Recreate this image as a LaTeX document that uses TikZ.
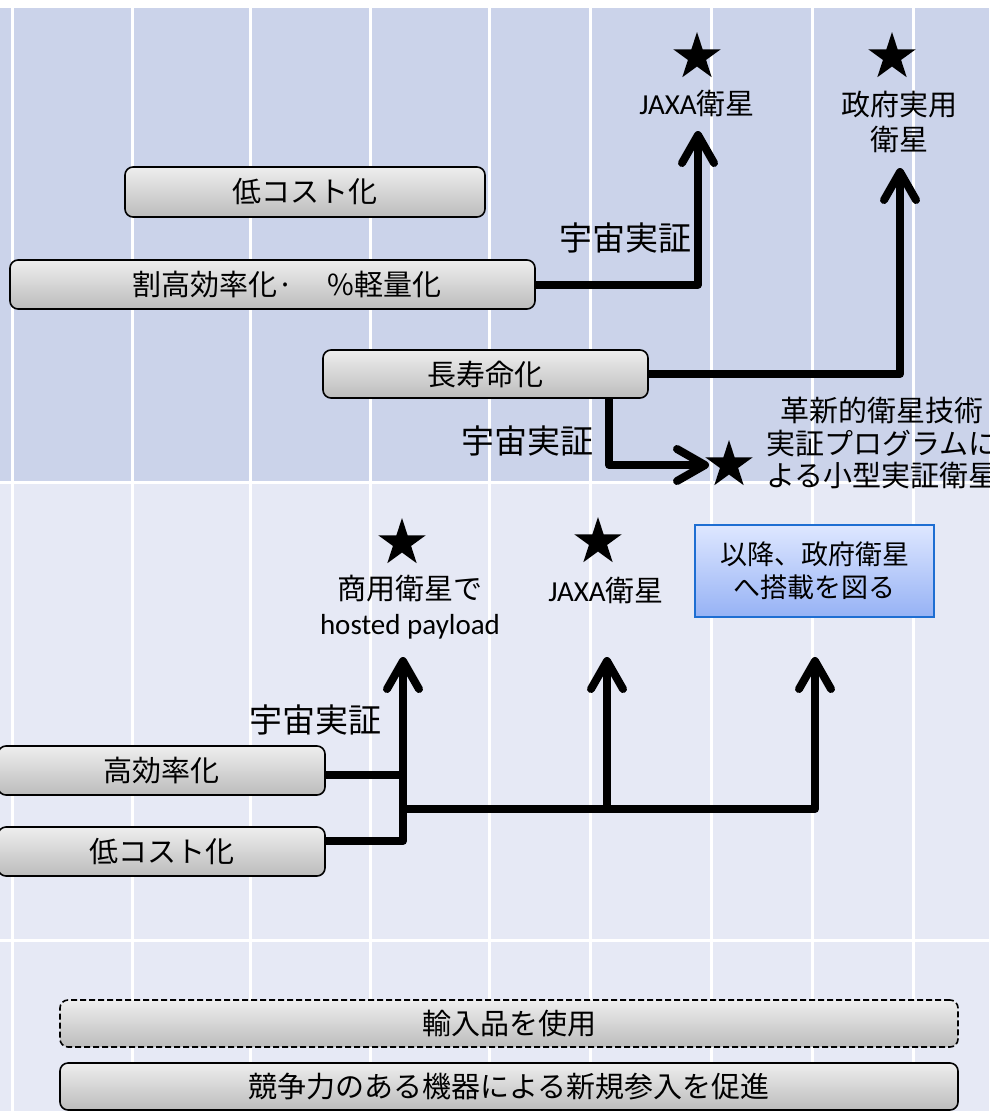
\documentclass[tikz,border=0pt]{standalone}
\usepackage{fontspec}
\setmainfont{Noto Sans CJK JP}
\newfontfamily\latfont{Carlito}
\usetikzlibrary{shapes.geometric,arrows.meta}
\definecolor{bandA}{RGB}{203,211,234}
\definecolor{bandB}{RGB}{230,233,245}
\definecolor{boxtop}{RGB}{238,238,238}
\definecolor{boxbot}{RGB}{188,188,188}
\definecolor{bluetop}{RGB}{222,231,255}
\definecolor{bluebot}{RGB}{150,178,245}
\definecolor{blueedge}{RGB}{30,110,210}
\tikzset{
  gbox/.style={draw=black,line width=1.6pt,rounded corners=8pt,top color=boxtop,bottom color=boxbot,inner sep=0pt,font=\fontsize{29}{34}\selectfont},
  bluebox/.style={draw=blueedge,line width=2pt,top color=bluetop,bottom color=bluebot,inner sep=0pt,align=center,font=\fontsize{27}{33}\selectfont},
  starnode/.style={star,star points=5,star point ratio=2.618,fill=black,draw=none,inner sep=0pt,minimum size=50pt},
  lbl/.style={inner sep=0pt,align=center,font=\fontsize{29}{35}\selectfont},
  demo/.style={inner sep=0pt,font=\fontsize{33}{38}\selectfont},
  conn/.style={line width=8pt,line join=round},
  arr/.style={conn,-{Straight Barb[length=28pt,width=32pt,round]}},
  gridline/.style={white,line width=3pt}
}
\begin{document}
\begin{tikzpicture}[x=1pt,y=-1pt]
\useasboundingbox (0,0) rectangle (989,1111);
\clip (0,0) rectangle (989,1111);
% background bands
\fill[white] (0,0) rectangle (989,1111);
\fill[bandA] (0,8) rectangle (989,482.5);
\fill[bandB] (0,482.5) rectangle (989,1111);
\foreach \x in {12,132,250,370,489,590,711,812,913}
  \draw[gridline] (\x,8) -- (\x,1111);
\draw[gridline] (0,482.5) -- (989,482.5);
\draw[gridline] (0,940) -- (989,940);

% boxes
\node[gbox,minimum width=360pt,minimum height=50pt] (lc1) at (305,192) {低コスト化};
\node[gbox,minimum width=525pt,minimum height=49pt] (eff) at (272.5,284.5) {\hspace*{29pt}割高効率化·\hspace{34pt}\%軽量化};
\node[gbox,minimum width=325pt,minimum height=48pt] (life) at (485.5,374) {長寿命化};
\node[gbox,minimum width=327pt,minimum height=49pt] (hi) at (161.5,770.5) {高効率化};
\node[gbox,minimum width=327pt,minimum height=49pt] (lc2) at (161.5,851.5) {低コスト化};
\node[gbox,dash pattern=on 6pt off 3pt,minimum width=898pt,minimum height=47pt] (imp) at (509,1023.5) {輸入品を使用};
\node[gbox,minimum width=898pt,minimum height=47pt] (comp) at (509,1086.5) {競争力のある機器による新規参入を促進};
\node[bluebox,minimum width=239pt,minimum height=92pt] (gov) at (814.5,571) {以降、政府衛星\\へ搭載を図る};

% stars
\node[starnode] (s1) at (697,57) {};
\node[starnode] (s2) at (892,57) {};
\node[starnode] (s3) at (729,465) {};
\node[starnode] (s4) at (402,543) {};
\node[starnode] (s5) at (598,542) {};

% labels
\node[lbl] (j1) at (697,103) {{\latfont JAXA}衛星};
\node[lbl] (g1) at (899,121.5) {政府実用\\衛星};
\node[lbl,font=\fontsize{29}{32.5}\selectfont] (inn) at (882,443) {革新的衛星技術\\実証プログラムに\\よる小型実証衛星};
\node[lbl] (cm) at (410,607) {商用衛星で\\{\latfont hosted payload}};
\node[lbl] (j2) at (606,590) {{\latfont JAXA}衛星};
\node[demo,anchor=east] (d1) at (692,238) {宇宙実証};
\node[demo,anchor=east] (d2) at (594,441) {宇宙実証};
\node[demo,anchor=east] (d3) at (382,720) {宇宙実証};

% connectors
\coordinate (a1) at (698,131);
\coordinate (a2) at (900,168);
\coordinate (a3) at (709,465);
\coordinate (a4) at (403,657);
\coordinate (a5) at (607,657);
\coordinate (a6) at (815,657);
\coordinate (jn) at (403,809);
\draw[arr] (eff.east) -| (a1);
\draw[arr] (life.east) -| (a2);
\draw[arr] ([xshift=123.5pt]life.south) |- (a3);
\draw[conn] ([yshift=-4.5pt]hi.east) -- ++(78,0);
\draw[arr] ([yshift=10.5pt]lc2.east) -| (a4);
\draw[arr] (jn) -| (a6);
\draw[arr] (a5 |- jn) -- (a5);
\end{tikzpicture}
\end{document}
